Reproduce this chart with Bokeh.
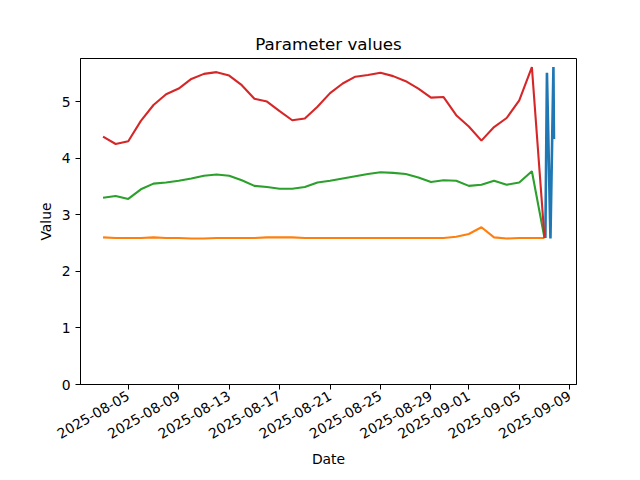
import math
import pandas as pd
from bokeh.plotting import figure
from bokeh.models import Range1d, FixedTicker, DatetimeTickFormatter
from bokeh.embed import file_html
from bokeh.resources import INLINE

# ---- data ----
daily_dates = list(pd.date_range("2025-08-03", periods=35, freq="D")) + [pd.Timestamp("2025-09-07")]

red_values = [4.38, 4.25, 4.30, 4.66, 4.94, 5.13, 5.23, 5.40, 5.49, 5.52, 5.46, 5.29, 5.05, 5.00,
              4.83, 4.67, 4.70, 4.91, 5.15, 5.32, 5.44, 5.47, 5.51, 5.45, 5.36, 5.23, 5.07, 5.08,
              4.76, 4.56, 4.31, 4.55, 4.71, 5.02, 5.61, 2.59]

green_values = [3.30, 3.33, 3.28, 3.45, 3.55, 3.57, 3.60, 3.64, 3.69, 3.71, 3.69, 3.61, 3.51, 3.49,
                3.46, 3.46, 3.49, 3.57, 3.60, 3.64, 3.68, 3.72, 3.75, 3.74, 3.72, 3.66, 3.58, 3.61,
                3.60, 3.51, 3.53, 3.60, 3.53, 3.57, 3.77, 2.59]

orange_values = [2.60, 2.59, 2.59, 2.59, 2.60, 2.59, 2.59, 2.58, 2.58, 2.59, 2.59, 2.59, 2.59, 2.60,
                 2.60, 2.60, 2.59, 2.59, 2.59, 2.59, 2.59, 2.59, 2.59, 2.59, 2.59, 2.59, 2.59, 2.59,
                 2.61, 2.66, 2.78, 2.60, 2.58, 2.59, 2.59, 2.59]

blue_dates = [pd.Timestamp("2025-09-07 01:40"), pd.Timestamp("2025-09-07 04:40"),
              pd.Timestamp("2025-09-07 11:20"), pd.Timestamp("2025-09-07 17:00"),
              pd.Timestamp("2025-09-07 18:00")]
blue_values = [2.59, 5.51, 2.58, 5.61, 4.34]

tick_labels = ["2025-08-05", "2025-08-09", "2025-08-13", "2025-08-17", "2025-08-21",
               "2025-08-25", "2025-08-29", "2025-09-01", "2025-09-05", "2025-09-09"]
y_ticks = [0, 1, 2, 3, 4, 5]

# ---- ranges (matplotlib-like 5% margins) ----
def ms(t):
    return pd.Timestamp(t).value / 1e6

all_x = [ms(d) for d in daily_dates] + [ms(d) for d in blue_dates]
xmin, xmax = min(all_x), max(all_x)
xspan = xmax - xmin
all_y = red_values + green_values + orange_values + blue_values
ymin, ymax = min(all_y), max(all_y)
ytop = ymax + 0.05 * (ymax - ymin)

p = figure(width=632, height=472, output_backend="svg", toolbar_location=None,
           x_axis_type="datetime",
           x_range=Range1d(xmin - 0.05 * xspan, xmax + 0.05 * xspan),
           y_range=Range1d(0, ytop),
           title="Parameter values",
           min_border_left=80, min_border_right=56, min_border_top=58, min_border_bottom=88)

lw = 2.1
p.line(blue_dates, blue_values, line_color="#1f77b4", line_width=2.6)
p.line(daily_dates, orange_values, line_color="#ff7f0e", line_width=lw)
p.line(daily_dates, green_values, line_color="#2ca02c", line_width=lw)
p.line(daily_dates, red_values, line_color="#d62728", line_width=lw)

font = "DejaVu Sans"
p.title.text_font = font
p.title.text_font_size = "16.7px"
p.title.text_font_style = "normal"
p.title.align = "center"
p.title.text_color = "black"

p.xgrid.visible = False
p.ygrid.visible = False
p.outline_line_color = "black"
p.outline_line_width = 1
p.background_fill_color = "white"
p.border_fill_color = "white"

fmt = "%Y-%m-%d"
p.xaxis.ticker = FixedTicker(ticks=[ms(t) for t in tick_labels])
p.xaxis.formatter = DatetimeTickFormatter(days=fmt, months=fmt, years=fmt, hours=fmt,
                                          hourmin=fmt, minutes=fmt, minsec=fmt, seconds=fmt,
                                          milliseconds=fmt, microseconds=fmt, context=None)
p.xaxis.major_label_orientation = math.pi / 6
p.yaxis.ticker = FixedTicker(ticks=y_ticks)

p.xaxis.axis_label = "Date"
p.yaxis.axis_label = "Value"
for ax in (p.xaxis[0], p.yaxis[0]):
    ax.axis_label_text_font = font
    ax.axis_label_text_font_size = "13.9px"
    ax.axis_label_text_font_style = "normal"
    ax.axis_label_text_color = "black"
    ax.major_label_text_font = font
    ax.major_label_text_font_size = "13.9px"
    ax.major_label_text_color = "black"
    ax.axis_line_color = "black"
    ax.major_tick_line_color = "black"
    ax.major_tick_out = 5
    ax.major_tick_in = 0
    ax.minor_tick_line_color = None
p.xaxis.axis_label_standoff = 4
p.yaxis.axis_label_standoff = 5

open("out.html", "w").write(file_html(p, INLINE))
